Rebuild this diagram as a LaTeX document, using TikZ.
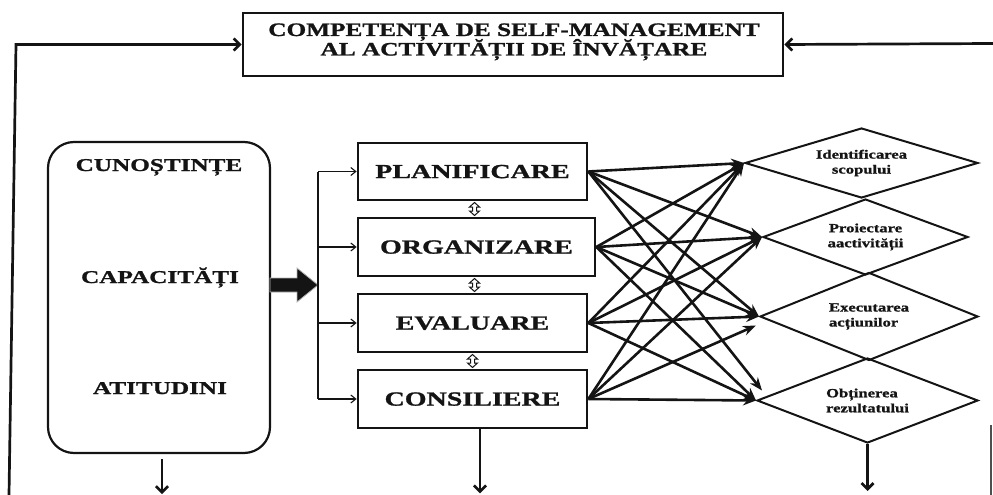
\documentclass[tikz,border=0pt]{standalone}
\usepackage{fontspec}
\setmainfont{Liberation Serif}
\newfontfamily\wf[FakeStretch=1.4, BoldFeatures={FakeBold=1.2}]{Liberation Serif}
\newfontfamily\wt[FakeStretch=1.33, BoldFeatures={FakeBold=1.2}]{Liberation Serif}
\usetikzlibrary{arrows.meta,shapes.geometric,calc}
\definecolor{ink}{HTML}{141414}
\begin{document}
\begin{tikzpicture}[x=1pt,y=-1pt,
  box/.style={draw=ink, line width=2.7pt, rectangle, inner sep=0pt, text=ink,
    font=\wf\bfseries\fontsize{20}{20}\selectfont, text height=13.2pt, text depth=0pt},
  lbl/.style={text=ink, inner sep=0pt, anchor=base},
  dia/.style={draw=ink, line width=2pt, diamond, inner sep=0pt, aspect=2.7, text=ink,
    font=\wt\bfseries\fontsize{12.5}{15}\selectfont},
  conn/.style={ink, line width=2.6pt, -{Stealth[length=13pt,width=10pt]}},
  feed/.style={ink, line width=2.7pt, -{Straight Barb[length=6pt,width=12pt]}},
  thinarr/.style={ink, line width=1.1pt, -{Straight Barb[length=5pt,width=8pt]}},
  dbl/.pic={\draw[ink, line width=1pt] (0,-6.5) -- (5,-2) -- (2,-2) -- (2,2) -- (5,2) -- (0,6.5) -- (-5,2) -- (-2,2) -- (-2,-2) -- (-5,-2) -- cycle;}
]
\useasboundingbox (0,0) rectangle (993,495);

% title box
\node[draw=ink, line width=2.7pt, minimum width=540pt, minimum height=63pt, inner sep=0pt] (top) at (513,44.5) {};
\node[lbl, font=\wt\bfseries\fontsize{19}{19}\selectfont] (t1) at (514,36) {COMPETENȚA DE SELF-MANAGEMENT};
\node[lbl, font=\wt\bfseries\fontsize{19}{19}\selectfont] (t2) at (514,55.5) {AL ACTIVITĂȚII DE ÎNVĂȚARE};

% left rounded box
\node[draw=ink, line width=2.2pt, rounded corners=26pt, minimum width=222pt, minimum height=311pt, inner sep=0pt] (left) at (159,297.5) {};
\node[lbl, font=\wf\bfseries\fontsize{18}{18}\selectfont] (k1) at (159,171) {CUNOȘTINȚE};
\node[lbl, font=\wf\bfseries\fontsize{18}{18}\selectfont] (k2) at (160,283) {CAPACITĂȚI};
\node[lbl, font=\wf\bfseries\fontsize{18}{18}\selectfont] (k3) at (160,394) {ATITUDINI};

% process boxes
\node[box, minimum width=229pt, minimum height=57pt] (plan) at (472.5,171.5) {PLANIFICARE};
\node[box, minimum width=237pt, minimum height=58pt] (org)  at (476.5,247) {ORGANIZARE};
\node[box, minimum width=229pt, minimum height=58pt] (eval) at (472.5,323) {EVALUARE};
\node[box, minimum width=229pt, minimum height=58pt] (cons) at (472.5,399) {CONSILIERE};

% diamonds
\node[dia, minimum width=233pt, minimum height=70pt, align=center] (d1) at (861.5,163) {Identificarea\\scopului};
\node[dia, minimum width=205pt, minimum height=76pt, align=center] (d2) at (865.5,237) {Proiectare\\aactivității};
\node[dia, minimum width=218pt, minimum height=88pt, align=left] (d3) at (869,316.5) {Executarea\\acțiunilor};
\node[dia, minimum width=221pt, minimum height=85pt, align=left] (d4) at (867.5,400.5) {Obținerea\\rezultatului};

% feedback lines to title
\coordinate (bl) at (9,495);
\coordinate (tl) at (16,44.5);
\coordinate (tr) at (993,43.5);
\coordinate (rb1) at (991,425);
\coordinate (rb2) at (991,495);
\draw[feed] (bl) -- (tl) -- (top.west);
\draw[feed] (tr) -- (top.east);
\draw[ink!75, line width=2pt] (rb1) -- (rb2);

% thick arrow
\filldraw[fill=ink, draw=gray!60, line width=0.8pt]
  (270,278) -- (297,278) -- (297,268) -- (318,285) -- (297,302) -- (297,292) -- (270,292) -- cycle;

% bracket
\coordinate (br) at (318,0);
\draw[ink, line width=1.1pt] (br |- plan.west) -- (br |- cons.west);
\draw[thinarr] (br |- plan.west) -- (plan.west);
\draw[thinarr] (br |- org.west) -- (org.west);
\draw[thinarr] (br |- eval.west) -- (eval.west);
\draw[thinarr] (br |- cons.west) -- (cons.west);

% double arrows between boxes
\path ($(plan.south)!0.5!(org.north)$) pic{dbl};
\path ($(org.south)!0.5!(eval.north)$) pic{dbl};
\path ($(eval.south)!0.5!(cons.north)$) pic{dbl};

% all-to-all connectors
\foreach \s in {plan,org,eval,cons}{
  \draw[conn] (\s.east) -- (d1.west);
  \draw[conn] (\s.east) -- (d2.west);
}
\draw[conn] (plan.east) -- (d3.west);
\draw[conn] (org.east) -- (d3.west);
\draw[conn] (eval.east) -- (d3.west);
\draw[conn] (cons.east) -- ([xshift=-3pt,yshift=-9pt]d3.west);
\draw[conn] (plan.east) -- ([xshift=6pt,yshift=10pt]d4.west);
\draw[conn] (org.east) -- (d4.west);
\draw[conn] (eval.east) -- (d4.west);
\draw[conn] (cons.east) -- (d4.west);

% down arrows
\draw[feed] ([xshift=3pt,yshift=-5pt]left.south) -- ++(0,35);
\draw[feed] ([xshift=7.5pt]cons.south) -- ++(0,64);
\draw[feed] (d4.south) -- ++(0,47);
\end{tikzpicture}
\end{document}
